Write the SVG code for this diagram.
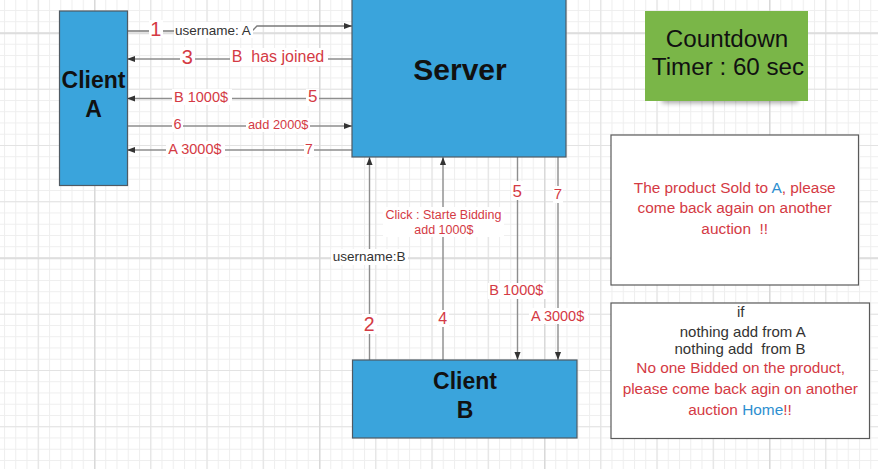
<svg xmlns="http://www.w3.org/2000/svg" width="878" height="469" viewBox="0 0 878 469">
  <style>
    text { font-family: "Liberation Sans", Arial, sans-serif; white-space: pre; }
    .node { fill: #3aa4dc; stroke: #4f5a63; stroke-width: 1.2; }
    .note { fill: #ffffff; stroke: #5a5a5a; stroke-width: 1.2; }
    .title { font-weight: bold; fill: #111; text-anchor: middle; }
    .wire { fill: none; stroke: #8e8e8e; stroke-width: 1.4; }
    .lbg { fill: #ffffff; }
    .red { fill: #d43a44; }
    .gray { fill: #333333; }
    .blue { fill: #2e8fd0; }
    .mid { text-anchor: middle; }
  </style>
  <defs>
    <pattern id="gridMinor" patternUnits="userSpaceOnUse" x="4" y="10" width="11.25" height="11.25">
      <path d="M0.5 0V11.25M0 0.5H11.25" stroke="#eeeeee" stroke-width="1"/>
    </pattern>
    <pattern id="gridMid" patternUnits="userSpaceOnUse" x="94" y="32.5" width="56.25" height="56.25">
      <path d="M0.5 0V56.25M0 0.5H56.25" stroke="#e3e3e3" stroke-width="1.2"/>
    </pattern>
    <pattern id="gridMajor" patternUnits="userSpaceOnUse" x="94" y="32.5" width="225" height="225">
      <path d="M0.75 0V225M0 0.75H225" stroke="#d9d9d9" stroke-width="1.5"/>
    </pattern>
    <marker id="arrow" viewBox="0 0 10 10" refX="10" refY="5" markerWidth="8" markerHeight="8" orient="auto" markerUnits="userSpaceOnUse">
      <path d="M0,1.2 L10,5 L0,8.8 z" fill="#333333"/>
    </marker>
    <filter id="soft" x="-20%" y="-200%" width="140%" height="500%">
      <feGaussianBlur stdDeviation="2.5"/>
    </filter>
  </defs>

  <!-- canvas grid -->
  <rect width="878" height="469" fill="#ffffff"/>
  <rect width="878" height="469" fill="url(#gridMinor)"/>
  <rect width="878" height="469" fill="url(#gridMid)"/>
  <rect width="878" height="469" fill="url(#gridMajor)"/>

  <!-- message connectors -->
  <g id="connectors">
    <path class="wire" d="M127,31 H252 L257,26 H352" marker-end="url(#arrow)" style="stroke:#7a7a7a"/>
    <path class="wire" d="M352,59 H127" marker-end="url(#arrow)"/>
    <path class="wire" d="M352,98.5 H127" marker-end="url(#arrow)"/>
    <path class="wire" d="M127,126 H352" marker-end="url(#arrow)"/>
    <path class="wire" d="M352,150 H127" marker-end="url(#arrow)"/>
    <path class="wire" d="M369.5,360 V157" marker-end="url(#arrow)"/>
    <path class="wire" d="M443,360 V157" marker-end="url(#arrow)"/>
    <path class="wire" d="M517.5,157 V360" marker-end="url(#arrow)"/>
    <path class="wire" d="M558,157 V360" marker-end="url(#arrow)"/>

    <!-- label backgrounds -->
    <rect class="lbg" x="149" y="20" width="14" height="18"/>
    <rect class="lbg" x="174" y="22" width="79" height="16"/>
    <rect class="lbg" x="180" y="47" width="15" height="19"/>
    <rect class="lbg" x="230" y="48" width="98" height="18"/>
    <rect class="lbg" x="172" y="89" width="60" height="16"/>
    <rect class="lbg" x="306" y="89" width="13" height="17"/>
    <rect class="lbg" x="172" y="117" width="11" height="15"/>
    <rect class="lbg" x="246" y="118" width="64" height="14"/>
    <rect class="lbg" x="166" y="141" width="59" height="16"/>
    <rect class="lbg" x="304" y="141" width="10" height="16"/>
    <rect class="lbg" x="331" y="249" width="77" height="16"/>
    <rect class="lbg" x="362" y="314" width="15" height="20"/>
    <rect class="lbg" x="383" y="207" width="121" height="30"/>
    <rect class="lbg" x="437" y="310" width="12" height="17"/>
    <rect class="lbg" x="511" y="181" width="13" height="19"/>
    <rect class="lbg" x="488" y="283" width="59" height="16"/>
    <rect class="lbg" x="553" y="186" width="10" height="17"/>
    <rect class="lbg" x="529" y="308" width="59" height="16"/>

    <!-- labels -->
    <text class="red mid" x="155.7" y="36" font-size="20">1</text>
    <text class="gray" x="175" y="34.5" font-size="13.5">username: A</text>
    <text class="red mid" x="187.2" y="63.5" font-size="20">3</text>
    <text class="red" x="231.7" y="62" font-size="16">B  has joined</text>
    <text class="red" x="174" y="101.7" font-size="14.5">B 1000$</text>
    <text class="red mid" x="312.7" y="102.3" font-size="17">5</text>
    <text class="red mid" x="177.5" y="129.3" font-size="14.5">6</text>
    <text class="red" x="248" y="129.3" font-size="12.8">add 2000$</text>
    <text class="red" x="168.3" y="153.5" font-size="14.5">A 3000$</text>
    <text class="red mid" x="309" y="153.5" font-size="14">7</text>

    <text class="gray" x="332.7" y="261" font-size="13.5">username:B</text>
    <text class="red mid" x="369.2" y="330.7" font-size="19.5">2</text>
    <text class="red mid" x="443.5" y="219" font-size="12.5">Click : Starte Bidding</text>
    <text class="red mid" x="443.8" y="233.5" font-size="12.5">add 1000$</text>
    <text class="red mid" x="442.8" y="324" font-size="16">4</text>
    <text class="red mid" x="517.2" y="196.7" font-size="17">5</text>
    <text class="red" x="489.3" y="295" font-size="14.5">B 1000$</text>
    <text class="red mid" x="558" y="199" font-size="15">7</text>
    <text class="red" x="531" y="320.5" font-size="14.5">A 3000$</text>
  </g>

  <g id="client-a">
    <rect class="node" x="59.5" y="11" width="68" height="174.5"/>
    <text class="title" x="93.5" y="88" font-size="23">Client</text>
    <text class="title" x="93.5" y="117" font-size="23">A</text>
  </g>

  <g id="server">
    <rect class="node" x="352" y="-2" width="214" height="159"/>
    <text class="title" x="460" y="80" font-size="30">Server</text>
  </g>

  <g id="client-b">
    <rect class="node" x="352.5" y="360" width="224.5" height="78"/>
    <text class="title" x="465" y="389" font-size="23">Client</text>
    <text class="title" x="465" y="418" font-size="23">B</text>
  </g>

  <g id="countdown-timer">
    <rect x="662" y="95" width="136" height="8" fill="#000" opacity="0.35" filter="url(#soft)"/>
    <rect x="645" y="11" width="163" height="90" fill="#7ab648"/>
    <text class="mid" x="727" y="46.7" font-size="24.2" fill="#111">Countdown</text>
    <text class="mid" x="728" y="75" font-size="24.2" fill="#111">Timer : 60 sec</text>
  </g>

  <g id="sold-note">
    <rect class="note" x="611" y="135" width="247.5" height="150"/>
    <text class="red mid" x="734.7" y="192.7" font-size="15.4">The product Sold to <tspan class="blue">A</tspan>, please</text>
    <text class="red mid" x="734.7" y="213.3" font-size="15.4">come back again on another</text>
    <text class="red mid" x="734.7" y="234" font-size="15.4">auction  !!</text>
  </g>

  <g id="no-bid-note">
    <rect class="note" x="611" y="303" width="258.5" height="135.5"/>
    <text class="gray mid" x="740.7" y="317" font-size="15">if</text>
    <text class="gray mid" x="742.7" y="336.7" font-size="15">nothing add from A</text>
    <text class="gray mid" x="740" y="354" font-size="15">nothing add  from B</text>
    <text class="red mid" x="740.7" y="373.3" font-size="15.4">No one Bidded on the product,</text>
    <text class="red mid" x="740.3" y="394.3" font-size="15.4">please come back agin on another</text>
    <text class="red mid" x="740" y="415" font-size="15.4">auction <tspan class="blue">Home</tspan>!!</text>
  </g>
</svg>
